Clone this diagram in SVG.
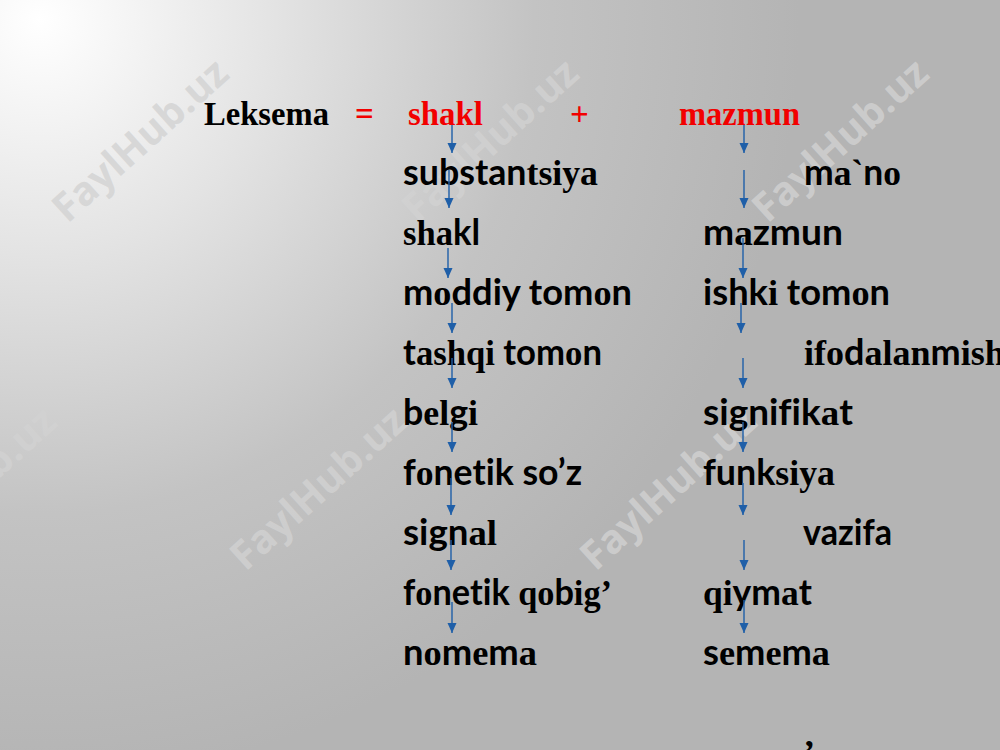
<svg xmlns="http://www.w3.org/2000/svg" width="1000" height="750" viewBox="0 0 1000 750">
<defs>
<radialGradient id="bg" gradientUnits="userSpaceOnUse" cx="40" cy="20" r="760">
<stop offset="0" stop-color="#ffffff"/>
<stop offset="0.3" stop-color="#e4e4e4"/>
<stop offset="0.65" stop-color="#c3c3c3"/>
<stop offset="1" stop-color="#b4b4b4"/>
</radialGradient>
<marker id="ah" markerUnits="userSpaceOnUse" markerWidth="10" markerHeight="10" refX="10" refY="4.5" orient="auto">
<path d="M0,0 L10,4.5 L0,9 z" fill="#1f5fa8"/>
</marker>
<style>
text{font-variant-ligatures:none}
.s{font-family:Lato,"Open Sans","DejaVu Sans",sans-serif;font-weight:700}
.t{font-family:"Liberation Serif","Times New Roman",serif;font-weight:700}
.row{font-size:36px;fill:#000}
.hd{font-family:"Liberation Serif","Times New Roman",serif;font-weight:700;font-size:33px}
.red{fill:#f20000}
.wm{font-family:"Open Sans","DejaVu Sans",sans-serif;font-weight:700;font-size:40px;fill:#d2d2d2;fill-opacity:0.8}
.arr{stroke:#1f5fa8;stroke-width:1.4;fill:none;marker-end:url(#ah)}
</style>
</defs>
<rect width="1000" height="750" fill="url(#bg)"/>
<g id="watermarks">
<text class="wm" text-anchor="middle" transform="translate(140,140) rotate(-42)" y="14">FaylHub.uz</text>
<text class="wm" text-anchor="middle" transform="translate(490,140) rotate(-42)" y="14">FaylHub.uz</text>
<text class="wm" text-anchor="middle" transform="translate(840,140) rotate(-42)" y="14">FaylHub.uz</text>
<text class="wm" text-anchor="middle" transform="translate(-32,488) rotate(-42)" y="14">FaylHub.uz</text>
<text class="wm" text-anchor="middle" transform="translate(318,488) rotate(-42)" y="14">FaylHub.uz</text>
<text class="wm" text-anchor="middle" transform="translate(668,488) rotate(-42)" y="14">FaylHub.uz</text>
</g>
<g id="header">
<text class="hd" x="204" y="125" textLength="125" lengthAdjust="spacingAndGlyphs">Leksema</text>
<text class="hd red" x="355" y="125">=</text>
<text class="hd red" x="408" y="125" textLength="75" lengthAdjust="spacingAndGlyphs">shakl</text>
<text class="hd red" x="570" y="125">+</text>
<text class="hd red" x="679" y="125" textLength="121" lengthAdjust="spacingAndGlyphs">mazmun</text>
</g>
<g id="left-column">
<g id="l1"><text class="row" x="403" y="185" textLength="195" lengthAdjust="spacingAndGlyphs"><tspan class="s">substan</tspan><tspan class="t">tsiya</tspan></text></g>
<g id="l2"><text class="row" x="403" y="245" textLength="77" lengthAdjust="spacingAndGlyphs"><tspan class="t">sha</tspan><tspan class="s">kl</tspan></text></g>
<g id="l3"><text class="row" x="403" y="305" textLength="229" lengthAdjust="spacingAndGlyphs"><tspan class="s">m</tspan><tspan class="t">o</tspan><tspan class="s">ddiy to</tspan><tspan class="s">m</tspan><tspan class="t">o</tspan><tspan class="s">n</tspan></text></g>
<g id="l4"><text class="row" x="403" y="365" textLength="199" lengthAdjust="spacingAndGlyphs"><tspan class="s">t</tspan><tspan class="t">ashqi</tspan><tspan class="s"> tom</tspan><tspan class="t">o</tspan><tspan class="s">n</tspan></text></g>
<g id="l5"><text class="row" x="403" y="425" textLength="75" lengthAdjust="spacingAndGlyphs"><tspan class="s">b</tspan><tspan class="t">el</tspan><tspan class="s">g</tspan><tspan class="t">i</tspan></text></g>
<g id="l6"><text class="row" x="403" y="485" textLength="179" lengthAdjust="spacingAndGlyphs"><tspan class="s">f</tspan><tspan class="t">o</tspan><tspan class="s">netik so’z</tspan></text></g>
<g id="l7"><text class="row" x="403" y="545" textLength="94" lengthAdjust="spacingAndGlyphs"><tspan class="s">sign</tspan><tspan class="t">al</tspan></text></g>
<g id="l8"><text class="row" x="403" y="605" textLength="209" lengthAdjust="spacingAndGlyphs"><tspan class="s">f</tspan><tspan class="t">o</tspan><tspan class="s">netik </tspan><tspan class="t">qo</tspan><tspan class="s">b</tspan><tspan class="t">ig’</tspan></text></g>
<g id="l9"><text class="row" x="403" y="665" textLength="134" lengthAdjust="spacingAndGlyphs"><tspan class="s">n</tspan><tspan class="t">o</tspan><tspan class="s">m</tspan><tspan class="t">e</tspan><tspan class="s">m</tspan><tspan class="t">a</tspan></text></g>
</g>
<g id="right-column">
<g id="r1"><text class="row" x="804" y="185" textLength="97" lengthAdjust="spacingAndGlyphs"><tspan class="s">m</tspan><tspan class="t">a`</tspan><tspan class="s">n</tspan><tspan class="t">o</tspan></text></g>
<g id="r2"><text class="row" x="703" y="245" textLength="140" lengthAdjust="spacingAndGlyphs"><tspan class="s">m</tspan><tspan class="t">a</tspan><tspan class="s">zmun</tspan></text></g>
<g id="r3"><text class="row" x="703" y="305" textLength="187" lengthAdjust="spacingAndGlyphs"><tspan class="s">ishk</tspan><tspan class="t">i</tspan><tspan class="s"> tom</tspan><tspan class="t">o</tspan><tspan class="s">n</tspan></text></g>
<g id="r4"><text class="row" x="804" y="365"><tspan class="t">ifo</tspan><tspan class="s">d</tspan><tspan class="t">alan</tspan><tspan class="s">m</tspan><tspan class="t">ish</tspan></text></g>
<g id="r5"><text class="row" x="703" y="425" textLength="150" lengthAdjust="spacingAndGlyphs"><tspan class="s">signifik</tspan><tspan class="t">a</tspan><tspan class="s">t</tspan></text></g>
<g id="r6"><text class="row" x="703" y="485" textLength="132" lengthAdjust="spacingAndGlyphs"><tspan class="s">funk</tspan><tspan class="t">siya</tspan></text></g>
<g id="r7"><text class="row" x="803" y="545" textLength="89" lengthAdjust="spacingAndGlyphs"><tspan class="s">vazifa</tspan></text></g>
<g id="r8"><text class="row" x="703" y="605" textLength="109" lengthAdjust="spacingAndGlyphs"><tspan class="t">qi</tspan><tspan class="s">ym</tspan><tspan class="t">a</tspan><tspan class="s">t</tspan></text></g>
<g id="r9"><text class="row" x="703" y="665" textLength="127" lengthAdjust="spacingAndGlyphs"><tspan class="s">s</tspan><tspan class="t">e</tspan><tspan class="s">m</tspan><tspan class="t">e</tspan><tspan class="s">m</tspan><tspan class="t">a</tspan></text></g>
<g id="r10"><text class="row t" x="803" y="765">’</text></g>
</g>
<g id="connectors">
<path class="arr" d="M452,125 V153"/>
<path class="arr" d="M449,170 V208"/>
<path class="arr" d="M448,248 V278"/>
<path class="arr" d="M452,303 V333"/>
<path class="arr" d="M452,358 V388"/>
<path class="arr" d="M452,422 V452"/>
<path class="arr" d="M451,478 V515"/>
<path class="arr" d="M451,540 V570"/>
<path class="arr" d="M452,602 V633"/>
<path class="arr" d="M744,125 V153"/>
<path class="arr" d="M744,170 V208"/>
<path class="arr" d="M743,238 V278"/>
<path class="arr" d="M741,303 V333"/>
<path class="arr" d="M743,358 V388"/>
<path class="arr" d="M743,422 V452"/>
<path class="arr" d="M743,483 V515"/>
<path class="arr" d="M744,540 V570"/>
<path class="arr" d="M744,600 V633"/>
</g>
</svg>
